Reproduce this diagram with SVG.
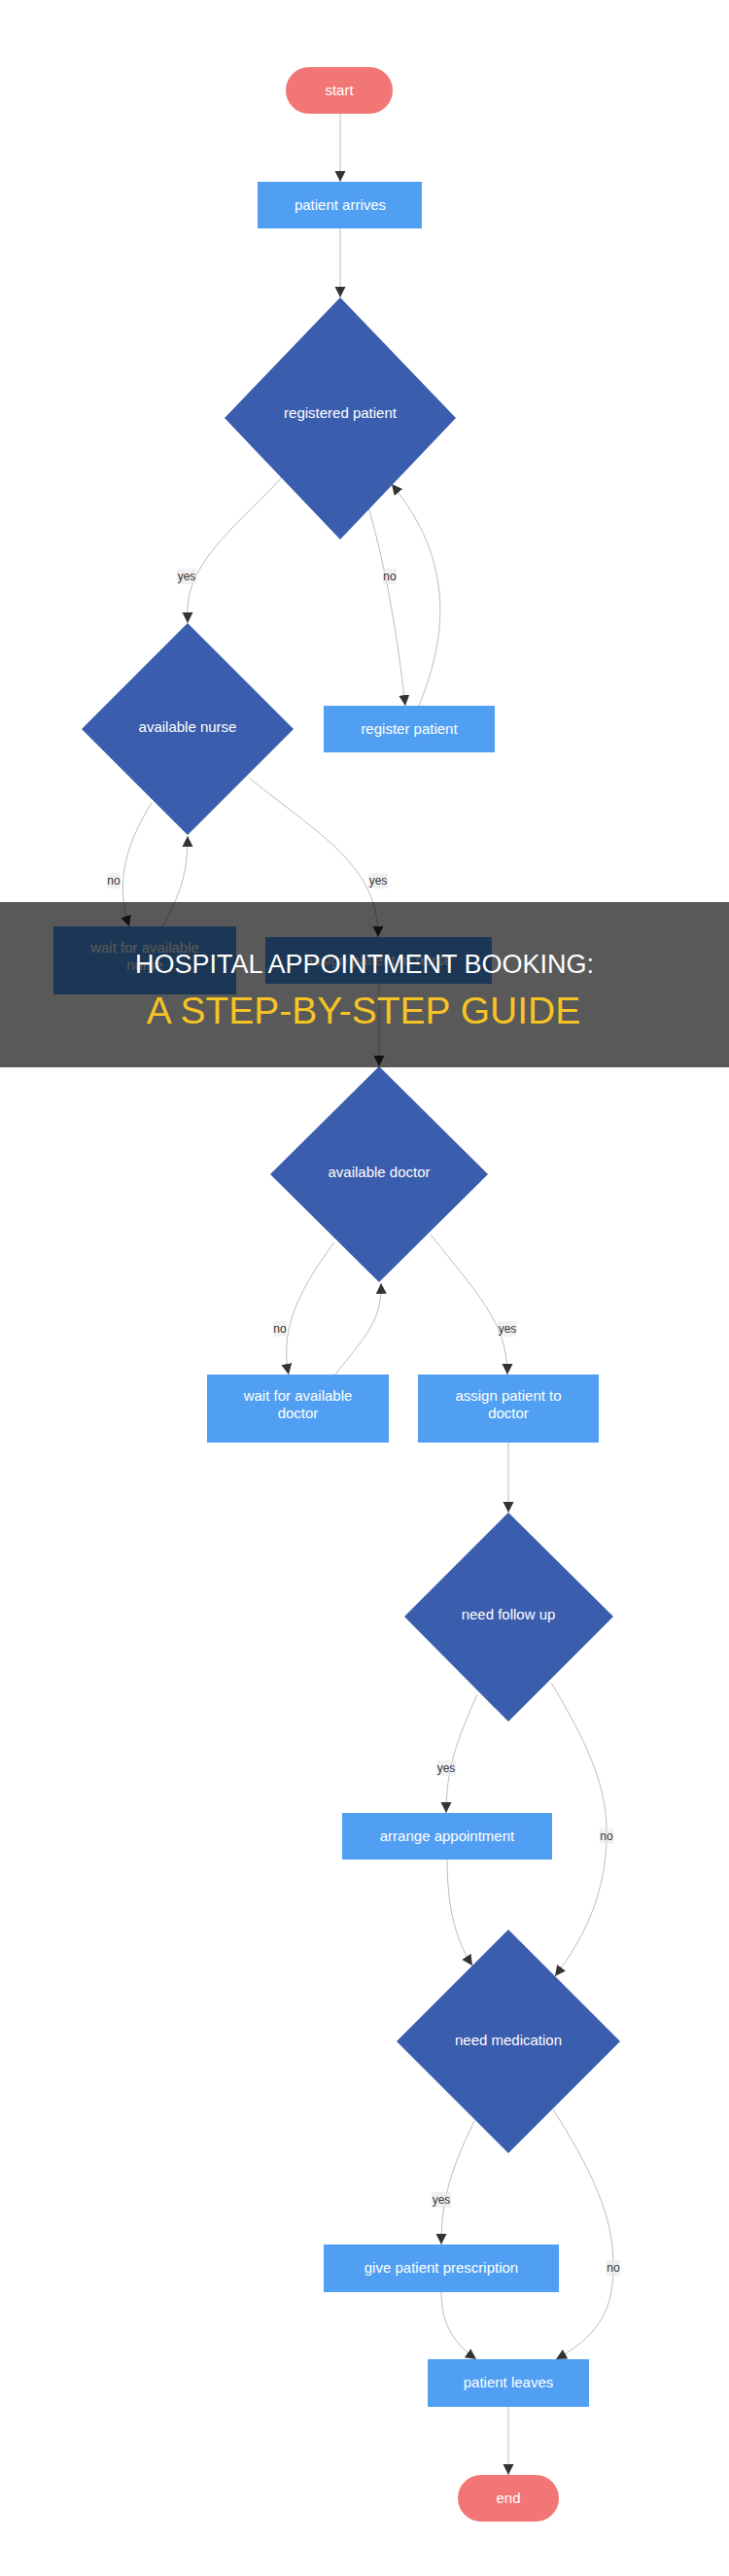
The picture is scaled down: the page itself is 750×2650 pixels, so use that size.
<svg xmlns="http://www.w3.org/2000/svg" width="750" height="2650" viewBox="0 0 750 2650">
<defs>
<marker id="arr" viewBox="0 0 10 10" refX="10" refY="5" markerUnits="userSpaceOnUse" markerWidth="11" markerHeight="12" orient="auto">
<path d="M0,0 L10,5 L0,10 z" fill="#333"/>
</marker>
<style>
.term{fill:#f27676;}
.proc{fill:#519ff2;}
.dec{fill:#3b5dad;}
.nt{font-family:"Liberation Sans",Arial,sans-serif;font-size:15px;fill:#fff;text-anchor:middle;}
.edge{fill:none;stroke:#bdbdbd;stroke-width:1;marker-end:url(#arr);}
.lbg{fill:#e8e8e8;opacity:0.6;}
.lt{font-family:"Liberation Sans",Arial,sans-serif;font-size:12px;fill:#333;text-anchor:middle;}
.t1{font-family:"Liberation Sans",Arial,sans-serif;font-size:27px;fill:#fff;text-anchor:middle;}
.t2{font-family:"Liberation Sans",Arial,sans-serif;font-size:39px;fill:#f6c324;text-anchor:middle;}
</style>
</defs>
<rect width="750" height="2650" fill="#fff"/>

<g id="connectors">
<path class="edge" d="M350,117 L350,187"/>
<path class="edge" d="M350,235 L350,306"/>
<path class="edge" d="M290,491 C250,535 195,575 193,625 L193,641"/>
<path class="edge" d="M378,518 C390,560 405,620 417,726"/>
<path class="edge" d="M431,726 C462,650 466,575 403,498"/>
<path class="edge" d="M156,826 C125,875 120,915 133,953"/>
<path class="edge" d="M167,954 C185,920 193,900 193,860"/>
<path class="edge" d="M256,800 C330,860 389,890 389,964"/>
<path class="edge" d="M390,1012 L390,1097"/>
<path class="edge" d="M344,1278 C305,1330 288,1370 297,1414"/>
<path class="edge" d="M345,1414 C375,1375 393,1360 392,1320"/>
<path class="edge" d="M443,1270 C490,1330 522,1360 522,1414"/>
<path class="edge" d="M523,1484 L523,1556"/>
<path class="edge" d="M491,1743 C470,1790 459,1820 459,1865"/>
<path class="edge" d="M567,1731 C615,1810 625,1850 624,1890 C623,1950 600,1995 571,2033"/>
<path class="edge" d="M460,1913 C460,1960 468,1995 486,2022"/>
<path class="edge" d="M488,2182 C465,2230 454,2260 454,2309"/>
<path class="edge" d="M569,2170 C620,2250 631,2290 631,2333 C631,2380 612,2405 572,2427"/>
<path class="edge" d="M454,2358 C454,2390 466,2410 490,2427"/>
<path class="edge" d="M523,2476 L523,2546"/>
</g>

<g id="edge-labels">
<rect class="lbg" x="182" y="585" width="20" height="16"/><text class="lt" x="192" y="597">yes</text>
<rect class="lbg" x="394" y="585" width="14" height="16"/><text class="lt" x="401" y="597">no</text>
<rect class="lbg" x="110" y="898" width="14" height="16"/><text class="lt" x="117" y="910">no</text>
<rect class="lbg" x="379" y="898" width="20" height="16"/><text class="lt" x="389" y="910">yes</text>
<rect class="lbg" x="281" y="1359" width="14" height="16"/><text class="lt" x="288" y="1371">no</text>
<rect class="lbg" x="512" y="1359" width="20" height="16"/><text class="lt" x="522" y="1371">yes</text>
<rect class="lbg" x="449" y="1811" width="20" height="16"/><text class="lt" x="459" y="1823">yes</text>
<rect class="lbg" x="617" y="1881" width="14" height="16"/><text class="lt" x="624" y="1893">no</text>
<rect class="lbg" x="444" y="2255" width="20" height="16"/><text class="lt" x="454" y="2267">yes</text>
<rect class="lbg" x="624" y="2325" width="14" height="16"/><text class="lt" x="631" y="2337">no</text>
</g>

<g id="start"><rect class="term" x="294" y="69" width="110" height="48" rx="24"/><text class="nt" x="349" y="98">start</text></g>
<g id="patient-arrives"><rect class="proc" x="265" y="187" width="169" height="48"/><text class="nt" x="350" y="216">patient arrives</text></g>
<g id="registered-patient"><polygon class="dec" points="350,306 469,430 350,555 231,430"/><text class="nt" x="350" y="430">registered patient</text></g>
<g id="available-nurse"><polygon class="dec" points="193,641 302,750 193,859 84,750"/><text class="nt" x="193" y="753">available nurse</text></g>
<g id="register-patient"><rect class="proc" x="333" y="726" width="176" height="48"/><text class="nt" x="421" y="755">register patient</text></g>
<g id="wait-nurse"><rect class="proc" x="55" y="953" width="188" height="70"/><text class="nt" x="149" y="980">wait for available</text><text class="nt" x="149" y="998">nurse</text></g>
<g id="assign-nurse"><rect class="proc" x="273" y="964" width="233" height="48"/><text class="nt" x="389.5" y="993">assign patient to nurse</text></g>
<g id="available-doctor"><polygon class="dec" points="390,1097 502,1208 390,1319 278,1208"/><text class="nt" x="390" y="1211">available doctor</text></g>
<g id="wait-doctor"><rect class="proc" x="213" y="1414" width="187" height="70"/><text class="nt" x="306.5" y="1441">wait for available</text><text class="nt" x="306.5" y="1459">doctor</text></g>
<g id="assign-doctor"><rect class="proc" x="430" y="1414" width="186" height="70"/><text class="nt" x="523" y="1441">assign patient to</text><text class="nt" x="523" y="1459">doctor</text></g>
<g id="need-follow-up"><polygon class="dec" points="523,1556 631,1663 523,1771 416,1663"/><text class="nt" x="523" y="1666">need follow up</text></g>
<g id="arrange-appointment"><rect class="proc" x="352" y="1865" width="216" height="48"/><text class="nt" x="460" y="1894">arrange appointment</text></g>
<g id="need-medication"><polygon class="dec" points="523,1985 638,2100 523,2215 408,2100"/><text class="nt" x="523" y="2104">need medication</text></g>
<g id="give-prescription"><rect class="proc" x="333" y="2309" width="242" height="49"/><text class="nt" x="454" y="2338">give patient prescription</text></g>
<g id="patient-leaves"><rect class="proc" x="440" y="2427" width="166" height="49"/><text class="nt" x="523" y="2456">patient leaves</text></g>
<g id="end"><rect class="term" x="471" y="2546" width="104" height="48" rx="24"/><text class="nt" x="523" y="2575">end</text></g>

<g id="title-band">
<rect x="0" y="928" width="750" height="170" fill="#000" opacity="0.65"/>
<text class="t1" x="375" y="1001">HOSPITAL APPOINTMENT BOOKING:</text>
<text class="t2" x="374" y="1053">A STEP-BY-STEP GUIDE</text>
</g>
</svg>
